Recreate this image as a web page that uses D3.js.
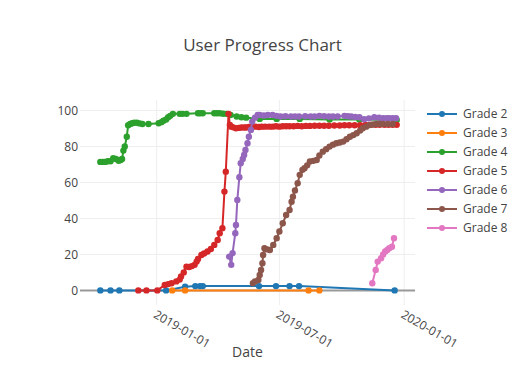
<!DOCTYPE html>
<html>
<head>
<meta charset="utf-8">
<script src="https://cdn.jsdelivr.net/npm/d3@7"></script>
<style>
  body { margin: 0; background: #fff; }
  text { font-family: "Open Sans", verdana, arial, sans-serif; fill: #444; }
</style>
</head>
<body>
<div id="chart-container"></div>
<script>
// Data, one pair of arrays per grade
const grade2Dates = ["2018-10-10","2018-10-25","2018-11-07","2019-01-15","2019-02-12","2019-02-27","2019-03-06","2019-03-10","2019-06-01","2019-06-26","2019-07-16","2019-07-30","2019-12-18"];
const grade2Values = [0,0,0,0,2,2.4,2.4,2.4,2.4,2.4,2.4,2.4,0];

const grade3Dates = ["2019-01-24","2019-02-12","2019-08-13","2019-08-29"];
const grade3Values = [0,0,0,0];

const grade4Dates = ["2018-10-10","2018-10-14","2018-10-17","2018-10-21","2018-10-25","2018-10-29","2018-11-02","2018-11-06","2018-11-09","2018-11-11","2018-11-13","2018-11-15","2018-11-18","2018-11-20","2018-11-23","2018-11-26","2018-11-29","2018-12-03","2018-12-07","2018-12-11","2018-12-20","2019-01-04","2019-01-08","2019-01-11","2019-01-15","2019-01-18","2019-01-21","2019-01-25","2019-02-04","2019-02-08","2019-02-14","2019-03-03","2019-03-06","2019-03-10","2019-03-27","2019-03-31","2019-04-04","2019-04-09","2019-04-14","2019-04-20","2019-04-29","2019-05-06","2019-05-13","2019-06-02","2019-06-27","2019-07-31","2019-09-13","2019-10-27","2019-12-21"];
const grade4Values = [71.4,71.4,71.4,71.8,71.8,73.4,73,72,72.5,73,77.7,80,85.4,91.8,92.5,92.9,93.2,93.2,92.8,92.5,92.5,92.9,93.5,94.3,95,96.2,97,98.1,98.1,98.1,98.1,98.4,98.4,98.4,98.4,98.4,98.4,98.2,98.1,97.5,96.6,96.2,96,95.3,95.3,95.3,95,95,94.7];

const grade5Dates = ["2018-12-05","2018-12-17","2019-01-02","2019-01-13","2019-01-18","2019-01-23","2019-01-30","2019-02-04","2019-02-06","2019-02-10","2019-02-14","2019-02-18","2019-02-22","2019-02-26","2019-03-01","2019-03-03","2019-03-08","2019-03-12","2019-03-17","2019-03-22","2019-03-27","2019-04-01","2019-04-04","2019-04-08","2019-04-11","2019-04-13","2019-04-17","2019-04-19","2019-04-21","2019-04-24","2019-04-28","2019-05-02","2019-05-06","2019-05-10","2019-05-13","2019-05-17","2019-05-22","2019-05-27","2019-06-01","2019-06-05","2019-06-10","2019-06-16","2019-06-21","2019-06-26","2019-07-01","2019-07-06","2019-07-11","2019-07-16","2019-07-22","2019-07-28","2019-08-03","2019-08-09","2019-08-15","2019-08-22","2019-08-29","2019-09-05","2019-09-12","2019-09-20","2019-09-28","2019-10-05","2019-10-12","2019-10-20","2019-10-28","2019-11-05","2019-11-13","2019-11-20","2019-11-26","2019-12-03","2019-12-09","2019-12-15","2019-12-21"];
const grade5Values = [0,0,0,3,3.5,4,5,6,7.7,10,13.2,13,13.5,14.2,16,17.5,19.7,20.5,21.6,23,25.3,28,31.8,34.6,54.9,66,98.1,92,91,90.6,90.1,90.3,90.5,90.5,90.5,90.8,91,91,90.8,91,91,91,91,91.2,91,91.2,91.2,91.2,91.2,91.4,91.2,91.4,91.4,91.5,91.5,91.5,91.5,91.6,91.6,91.8,91.8,91.8,91.8,92,92,92,92,92,92,92,92];

const grade6Dates = ["2019-04-18","2019-04-21","2019-04-23","2019-04-27","2019-04-28","2019-04-30","2019-05-03","2019-05-05","2019-05-08","2019-05-10","2019-05-12","2019-05-15","2019-05-17","2019-05-20","2019-05-22","2019-05-26","2019-05-30","2019-06-02","2019-06-08","2019-06-14","2019-06-21","2019-06-27","2019-07-03","2019-07-10","2019-07-18","2019-07-24","2019-07-30","2019-08-08","2019-08-16","2019-08-22","2019-08-29","2019-09-05","2019-09-12","2019-09-18","2019-09-25","2019-10-05","2019-10-10","2019-10-15","2019-10-21","2019-10-27","2019-11-03","2019-11-10","2019-11-18","2019-11-25","2019-12-01","2019-12-06","2019-12-10","2019-12-15","2019-12-20"];
const grade6Values = [18.8,14.2,20.7,31.8,36.4,50.3,62.9,70.7,73,75.3,78,81.8,85.4,89.2,93.8,96,97.5,97.5,97.2,97.5,97.5,97,96.6,96.8,96.6,96.6,96.6,96.8,96.6,96.6,97,96.8,96.6,96.6,96.6,97,96.8,96.6,96.4,96.2,95.1,95.6,96.2,96,95.7,95.7,95.7,95.7,95.7];

const grade7Dates = ["2019-05-23","2019-05-26","2019-05-31","2019-06-02","2019-06-04","2019-06-06","2019-06-07","2019-06-09","2019-06-13","2019-06-17","2019-06-22","2019-06-27","2019-07-01","2019-07-06","2019-07-11","2019-07-16","2019-07-19","2019-07-21","2019-07-24","2019-07-28","2019-07-31","2019-08-04","2019-08-07","2019-08-11","2019-08-15","2019-08-20","2019-08-25","2019-08-29","2019-09-03","2019-09-08","2019-09-13","2019-09-18","2019-09-23","2019-09-28","2019-10-03","2019-10-08","2019-10-13","2019-10-18","2019-10-23","2019-10-28","2019-11-01","2019-11-06","2019-11-11","2019-11-16","2019-11-21","2019-11-26","2019-12-01","2019-12-08","2019-12-15"];
const grade7Values = [4,5,5.8,8.6,11.4,15.1,19.7,23.4,22.8,22.5,25.3,29,32.7,37.3,41.9,44.7,49.3,52.1,55.5,59.6,64.2,67,67.9,69.5,71.6,72,72.5,75,77.1,78.5,79.9,81,81.8,82.2,82.7,84,85.4,86.3,87.3,88.8,90.1,91,91.9,92.2,92.5,92.5,92.5,92.5,92.5];

const grade8Dates = ["2019-11-15","2019-11-20","2019-11-23","2019-11-28","2019-12-01","2019-12-04","2019-12-07","2019-12-10","2019-12-14","2019-12-17"];
const grade8Values = [4,11.4,16,17.9,20,21.6,22.5,23.4,24.3,29];

const gradeNames = ["Grade 2","Grade 3","Grade 4","Grade 5","Grade 6","Grade 7","Grade 8"];
const gradeColors = ["#1f77b4","#ff7f0e","#2ca02c","#d62728","#9467bd","#8c564b","#e377c2"];
const xTickDates = ["2019-01-01","2019-07-01","2020-01-01"];
const yTicks = [0, 20, 40, 60, 80, 100];

const parseDate = d3.utcParse("%Y-%m-%d");
const allDates = [grade2Dates, grade3Dates, grade4Dates, grade5Dates, grade6Dates, grade7Dates, grade8Dates];
const allValues = [grade2Values, grade3Values, grade4Values, grade5Values, grade6Values, grade7Values, grade8Values];
const series = gradeNames.map((name, i) => ({
    name: name,
    color: gradeColors[i],
    points: allDates[i].map((d, j) => ({ date: parseDate(d), value: allValues[i][j] }))
}));

// Set the dimensions for the SVG container
const svgWidth = 525;
const svgHeight = 385;
const plot = { left: 80, right: 415, top: 100, bottom: 305 };

const svg = d3.select("#chart-container").append("svg")
    .attr("width", svgWidth)
    .attr("height", svgHeight);

// Scales
const x = d3.scaleUtc()
    .domain([parseDate("2018-09-10"), parseDate("2020-01-17")])
    .range([plot.left, plot.right]);

const y = d3.scaleLinear()
    .domain([-8.1, 105.8])
    .range([plot.bottom, plot.top]);

// Title
svg.append("text")
    .attr("x", svgWidth / 2)
    .attr("y", 51)
    .attr("text-anchor", "middle")
    .style("font-size", "17px")
    .text("User Progress Chart");

// Grid lines
const grid = svg.append("g");
grid.selectAll(".ygrid")
    .data(yTicks.filter(t => t !== 0))
    .enter().append("line")
    .attr("x1", plot.left)
    .attr("x2", plot.right)
    .attr("y1", d => y(d))
    .attr("y2", d => y(d))
    .attr("stroke", "#eee")
    .attr("stroke-width", 1);

grid.selectAll(".xgrid")
    .data(xTickDates.map(parseDate))
    .enter().append("line")
    .attr("x1", d => x(d))
    .attr("x2", d => x(d))
    .attr("y1", plot.top)
    .attr("y2", plot.bottom)
    .attr("stroke", "#eee")
    .attr("stroke-width", 1);

// Zero line
svg.append("line")
    .attr("x1", plot.left)
    .attr("x2", plot.right)
    .attr("y1", y(0))
    .attr("y2", y(0))
    .attr("stroke", "#999")
    .attr("stroke-width", 2);

// Y tick labels
svg.selectAll(".ylabel")
    .data(yTicks)
    .enter().append("text")
    .attr("x", 78)
    .attr("y", d => y(d))
    .attr("dy", "0.35em")
    .attr("text-anchor", "end")
    .style("font-size", "12px")
    .text(d => d);

// X tick labels (rotated)
svg.selectAll(".xlabel")
    .data(xTickDates)
    .enter().append("text")
    .attr("transform", d => `translate(${x(parseDate(d)) - 4},${317}) rotate(30)`)
    .attr("text-anchor", "start")
    .style("font-size", "12px")
    .text(d => d);

// Axis title
svg.append("text")
    .attr("x", (plot.left + plot.right) / 2)
    .attr("y", 357)
    .attr("text-anchor", "middle")
    .style("font-size", "14px")
    .text("Date");

// Clip to the plot area
svg.append("defs").append("clipPath")
    .attr("id", "plot-clip")
    .append("rect")
    .attr("x", plot.left)
    .attr("y", plot.top)
    .attr("width", plot.right - plot.left)
    .attr("height", plot.bottom - plot.top);

const line = d3.line()
    .x(d => x(d.date))
    .y(d => y(d.value));

const traces = svg.append("g")
    .attr("clip-path", "url(#plot-clip)")
    .selectAll("g")
    .data(series)
    .enter().append("g");

traces.append("path")
    .attr("d", d => line(d.points))
    .attr("fill", "none")
    .attr("stroke", d => d.color)
    .attr("stroke-width", 2);

traces.selectAll("circle")
    .data(d => d.points.map(p => ({ ...p, color: d.color })))
    .enter().append("circle")
    .attr("cx", d => x(d.date))
    .attr("cy", d => y(d.value))
    .attr("r", 3.2)
    .attr("fill", d => d.color);

// Legend
const legend = svg.append("g")
    .selectAll("g")
    .data(series)
    .enter().append("g")
    .attr("transform", (d, i) => `translate(427,${114 + i * 19})`);

legend.append("line")
    .attr("x1", 0)
    .attr("x2", 30)
    .attr("stroke", d => d.color)
    .attr("stroke-width", 2);

legend.append("circle")
    .attr("cx", 15)
    .attr("r", 3)
    .attr("fill", d => d.color);

legend.append("text")
    .attr("x", 36)
    .attr("dy", "0.35em")
    .style("font-size", "12px")
    .text(d => d.name);
</script>
</body>
</html>
